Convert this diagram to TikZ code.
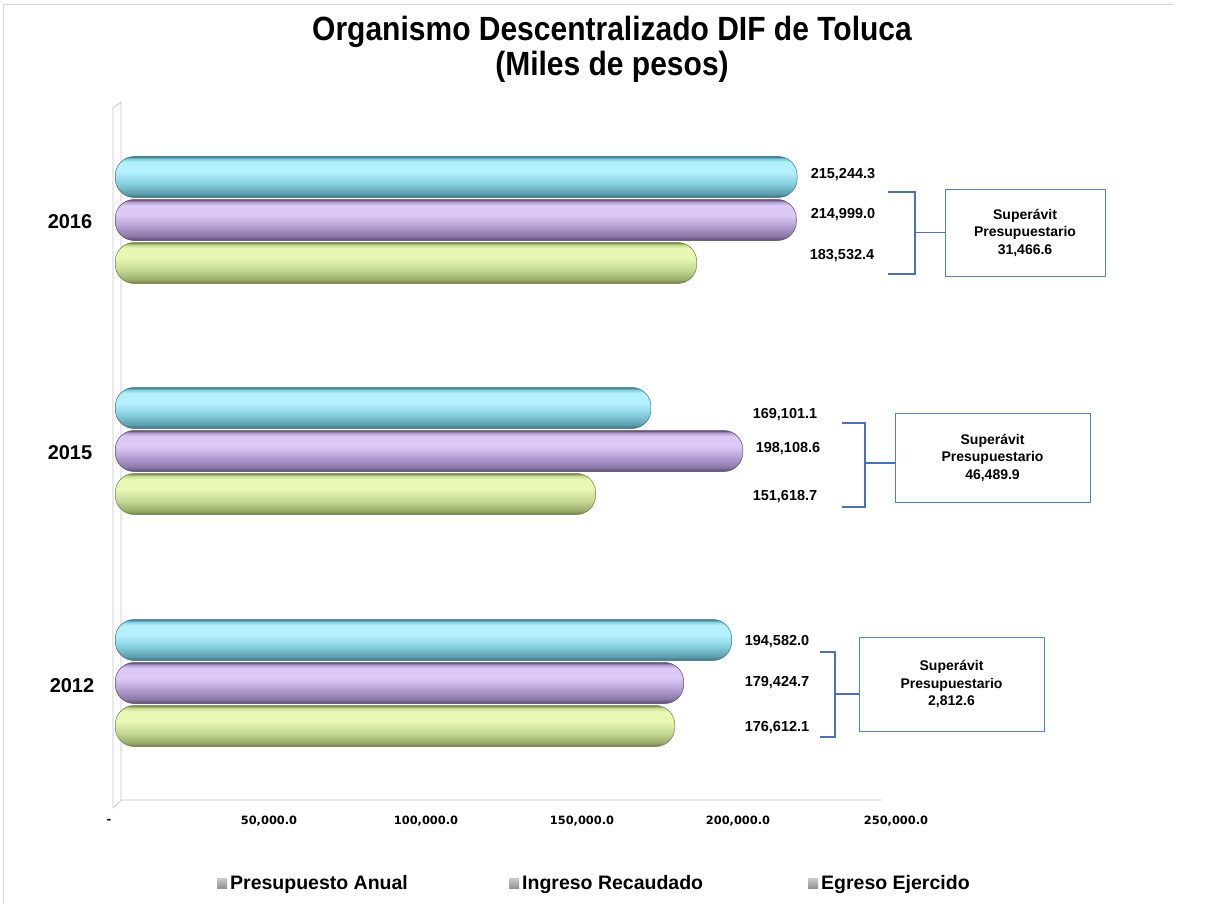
\documentclass[tikz,border=0pt]{standalone}
\usepackage{fontspec}
\setmainfont{Liberation Sans}
\newfontfamily\tickfont{DejaVu Sans}
\usetikzlibrary{calc}

\definecolor{cyD}{HTML}{3A7384}
\definecolor{cyK}{HTML}{5E9FB0}
\definecolor{cyM}{HTML}{86CEDF}
\definecolor{cyL}{HTML}{B4F0FF}
\definecolor{pD}{HTML}{574870}
\definecolor{pK}{HTML}{8A76A6}
\definecolor{pM}{HTML}{B29ED0}
\definecolor{pL}{HTML}{DDC9F7}
\definecolor{gD}{HTML}{6E7E44}
\definecolor{gK}{HTML}{9BAE6C}
\definecolor{gM}{HTML}{C6DA94}
\definecolor{gL}{HTML}{E7F8B4}
\definecolor{brkblue}{HTML}{4A70B8}
\definecolor{boxblue}{HTML}{4F81BD}

\pgfdeclareverticalshading{shcy}{100bp}{color(0bp)=(cyD); color(25bp)=(cyD); color(30bp)=(cyK); color(42bp)=(cyM); color(56bp)=(cyL); color(68bp)=(cyL); color(72bp)=(cyM); color(75bp)=(cyD); color(100bp)=(cyD)}
\pgfdeclareverticalshading{shpu}{100bp}{color(0bp)=(pD); color(25bp)=(pD); color(30bp)=(pK); color(42bp)=(pM); color(56bp)=(pL); color(68bp)=(pL); color(72bp)=(pM); color(75bp)=(pD); color(100bp)=(pD)}
\pgfdeclareverticalshading{shgr}{100bp}{color(0bp)=(gD); color(25bp)=(gD); color(30bp)=(gK); color(42bp)=(gM); color(56bp)=(gL); color(68bp)=(gL); color(72bp)=(gM); color(75bp)=(gD); color(100bp)=(gD)}

\tikzset{
  bar/.style={rounded corners=19pt, minimum height=41pt, inner sep=0pt, anchor=west, line width=0.5pt},
  cybar/.style={bar, shading=shcy, draw=cyD},
  pubar/.style={bar, shading=shpu, draw=pD},
  grbar/.style={bar, shading=shgr, draw=gD},
  val/.style={font=\bfseries\fontsize{14.5}{16}\selectfont, inner sep=0pt},
  year/.style={font=\bfseries\fontsize{20}{22}\selectfont, inner sep=0pt},
  tick/.style={font=\tickfont\bfseries\fontsize{11.4}{13}\selectfont, inner sep=0pt},
  sbox/.style={draw=boxblue, line width=1pt, fill=white, align=center, inner sep=0pt,
    font=\bfseries\fontsize{14}{17.5}\selectfont},
  brk/.style={draw=brkblue, line width=1.8pt},
  leg/.style={font=\bfseries\fontsize{19.5}{22}\selectfont, inner sep=0pt, anchor=west},
  legmark/.style={minimum size=10pt, inner sep=0pt, top color=gray!40, bottom color=gray!85, draw=none},
}

\begin{document}
\begin{tikzpicture}[x=1pt,y=-1pt]
\useasboundingbox (0,0) rectangle (1206,904);
\fill[white] (0,0) rectangle (1206,904);
% outer frame
\draw[gray!30, line width=0.8pt] (3,904) -- (3,4) -- (1174,4);

% title
\node[font=\bfseries\fontsize{30}{31.5}\selectfont, inner sep=0pt] (title) at (612,51)
  {\scalebox{1}[1.12]{\begin{tabular}{@{}c@{}}Organismo Descentralizado DIF de Toluca\\(Miles de pesos)\end{tabular}}};

% wall and floor
\draw[gray!45, line width=0.7pt] (113,808) -- (113,108) -- (121,102) -- (121,800);
\draw[gray!45, line width=0.7pt] (113,808) -- (121,800) -- (882,800);

% bars 2016
\node[cybar, minimum width={215.2443*3.168pt}] (c16) at (115,177) {};
\node[pubar, minimum width={214.999*3.168pt}] (p16) at (115,220) {};
\node[grbar, minimum width={183.5324*3.168pt}] (g16) at (115,263) {};
% bars 2015
\node[cybar, minimum width={169.1011*3.168pt}] (c15) at (115,408) {};
\node[pubar, minimum width={198.1086*3.168pt}] (p15) at (115,451) {};
\node[grbar, minimum width={151.6187*3.168pt}] (g15) at (115,494) {};
% bars 2012
\node[cybar, minimum width={194.582*3.168pt}] (c12) at (115,640) {};
\node[pubar, minimum width={179.4247*3.168pt}] (p12) at (115,683) {};
\node[grbar, minimum width={176.6121*3.168pt}] (g12) at (115,726) {};

% year labels
\node[year] (y16) at (70,222) {2016};
\node[year] (y15) at (70,453) {2015};
\node[year] (y12) at (72,686) {2012};

% value labels
\node[val] (v16a) at (843,175) {215,244.3};
\node[val] (v16b) at (843,215) {214,999.0};
\node[val] (v16c) at (842,256) {183,532.4};
\node[val] (v15a) at (785,415) {169,101.1};
\node[val] (v15b) at (788,449) {198,108.6};
\node[val] (v15c) at (785,497) {151,618.7};
\node[val] (v12a) at (777,642) {194,582.0};
\node[val] (v12b) at (777,683) {179,424.7};
\node[val] (v12c) at (777,728) {176,612.1};

% surplus boxes
\node[sbox, minimum width=160pt, minimum height=87pt] (s16) at (1025,232.5) {Superávit\\Presupuestario\\31,466.6};
\node[sbox, minimum width=195pt, minimum height=89pt] (s15) at (992.5,457.5) {Superávit\\Presupuestario\\46,489.9};
\node[sbox, minimum width=185pt, minimum height=94pt] (s12) at (951.5,684) {Superávit\\Presupuestario\\2,812.6};

% brackets
\coordinate (k16) at (915,232.5);
\coordinate (k15) at (865,463);
\coordinate (k12) at (835,694);
\draw[brk] (888,192) -| (915,274) -- (888,274);
\draw[brk] (k16) -- (k16 -| s16.west);
\draw[brk] (842,423) -| (865,507) -- (842,507);
\draw[brk] (k15) -- (k15 -| s15.west);
\draw[brk] (820,652) -| (835,737) -- (820,737);
\draw[brk] (k12) -- (k12 -| s12.west);

% axis tick labels
\node[tick] (t0) at (109,821) {-};
\node[tick] (t1) at (269,821) {50,000.0};
\node[tick] (t2) at (426,821) {100,000.0};
\node[tick] (t3) at (582,821) {150,000.0};
\node[tick] (t4) at (738,821) {200,000.0};
\node[tick] (t5) at (896,821) {250,000.0};

% legend
\node[legmark] (m1) at (222,883) {};
\node[leg] (l1) at (230,884) {Presupuesto Anual};
\node[legmark] (m2) at (514,883) {};
\node[leg] (l2) at (522,884) {Ingreso Recaudado};
\node[legmark] (m3) at (813,883) {};
\node[leg] (l3) at (821,884) {Egreso Ejercido};
\end{tikzpicture}
\end{document}
